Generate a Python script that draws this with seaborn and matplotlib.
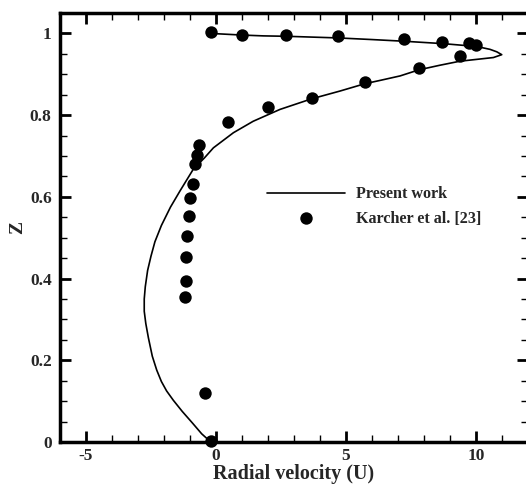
import matplotlib
matplotlib.use("Agg")
import matplotlib.pyplot as plt
import seaborn as sns
import pandas as pd
from matplotlib.ticker import MultipleLocator

# Present work (line), read along the curve from bottom (Z=0) to top (Z=1)
line_x = [-0.2, -0.55, -0.9, -1.3, -1.64, -1.9, -2.1, -2.28, -2.45, -2.6,
          -2.7, -2.76, -2.76, -2.72, -2.63, -2.5, -2.35, -2.1, -1.75, -1.38,
          -0.87, -0.45, -0.1, 0.67, 1.43, 2.46, 3.68, 4.77, 5.73, 6.31,
          7.08, 7.81, 8.6, 9.38, 10.1, 10.67, 10.99, 10.8, 10.54, 10.03,
          8.74, 7.2, 6.0, 4.69, 2.71, 1.82, 1.0, -0.2]
line_z = [0.0, 0.02, 0.046, 0.075, 0.102, 0.125, 0.148, 0.176, 0.21, 0.255,
          0.29, 0.32, 0.35, 0.38, 0.42, 0.455, 0.49, 0.53, 0.575, 0.615,
          0.668, 0.695, 0.72, 0.757, 0.785, 0.814, 0.84, 0.859, 0.877, 0.885,
          0.896, 0.911, 0.922, 0.932, 0.937, 0.941, 0.948, 0.955, 0.961, 0.968,
          0.975, 0.981, 0.985, 0.989, 0.993, 0.994, 0.996, 1.0]

# Karcher et al. [23] (points)
pts_x = [-0.19, 0.99, 2.71, 4.69, 7.23, 8.7, 9.73, 10.01, 9.4, 7.79, 5.72,
         3.69, 2.0, 0.45, -0.67, -0.74, -0.81, -0.9, -1.0, -1.05, -1.13,
         -1.15, -1.15, -1.18, -0.43, -0.2]
pts_z = [1.003, 0.995, 0.995, 0.993, 0.986, 0.98, 0.976, 0.971, 0.945, 0.916,
         0.88, 0.841, 0.82, 0.783, 0.726, 0.702, 0.68, 0.632, 0.598, 0.554,
         0.504, 0.453, 0.394, 0.356, 0.119, 0.002]

x_ticks = [-5, 0, 5, 10]
x_tick_labels = ["-5", "0", "5", "10"]
z_ticks = [0, 0.2, 0.4, 0.6, 0.8, 1.0]
z_tick_labels = ["0", "0.2", "0.4", "0.6", "0.8", "1"]

sns.set_style("ticks")
plt.rcParams['font.family'] = ['Liberation Serif', 'DejaVu Serif']
plt.rcParams['font.weight'] = 'bold'

fig = plt.figure(figsize=(5.26, 4.84), dpi=100)
ax = fig.add_axes([60/526, 42/484, 468/526, 429/484])

df_line = pd.DataFrame({"x": line_x, "z": line_z})
df_pts = pd.DataFrame({"x": pts_x, "z": pts_z})

sns.lineplot(data=df_line, x="x", y="z", sort=False, estimator=None,
             color="black", linewidth=1.2, ax=ax, label="Present work")
sns.scatterplot(data=df_pts, x="x", y="z", color="black", s=80,
                edgecolor="black", linewidth=0, ax=ax, label="Karcher et al. [23]",
                clip_on=False, zorder=5)

ax.set_xlim(-6, 12)
ax.set_ylim(0, 1.05)
ax.xaxis.set_minor_locator(MultipleLocator(1))
ax.yaxis.set_minor_locator(MultipleLocator(0.05))
ax.set_xticks(x_ticks)
ax.set_xticklabels(x_tick_labels)
ax.set_yticks(z_ticks)
ax.set_yticklabels(z_tick_labels)

ax.tick_params(which="both", direction="in", top=True, right=True,
               labelsize=12.5, color="black")
ax.tick_params(which="major", length=8, width=2)
ax.tick_params(which="minor", length=5, width=1)
ax.tick_params(axis="x", which="major", pad=4.5)
ax.tick_params(axis="y", which="major", pad=6)
for lab in ax.get_xticklabels() + ax.get_yticklabels():
    lab.set_fontweight("bold")

for sp in ax.spines.values():
    sp.set_linewidth(2.5)
    sp.set_color("black")

ax.set_xlabel("Radial velocity (U)", fontsize=14.5, fontweight="bold", labelpad=0)
ax.set_ylabel("Z", fontsize=14, fontweight="bold", labelpad=3)

leg = ax.legend(loc="center left", bbox_to_anchor=(0.412, 0.549), frameon=False,
                fontsize=11.6, handlelength=4.8, handletextpad=0.7,
                labelspacing=0.5)
for t in leg.get_texts():
    t.set_fontweight("bold")

fig.savefig("out.png", dpi=100)
